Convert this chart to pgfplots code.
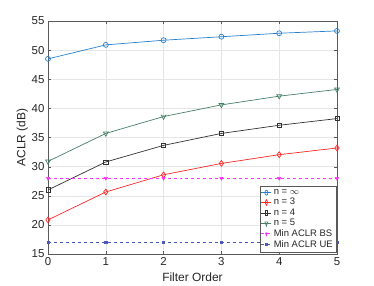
\documentclass[border=0pt]{standalone}
\usepackage{fontspec}
\setmainfont{Liberation Sans}
\usepackage{pgfplots}
\pgfplotsset{compat=1.18}
\definecolor{cInf}{rgb}{0.15,0.50,0.80}
\definecolor{cThree}{rgb}{1.0,0.15,0.15}
\definecolor{cFour}{rgb}{0.2,0.2,0.2}
\definecolor{cFive}{rgb}{0.28,0.50,0.40}
\definecolor{cBS}{rgb}{1.0,0.2,1.0}
\definecolor{cUE}{rgb}{0.30,0.35,0.72}
\definecolor{txt}{rgb}{0.15,0.15,0.15}
\begin{document}
\begin{tikzpicture}
\path[use as bounding box] (0,0) rectangle (374bp,286bp);
\begin{axis}[
  at={(48bp,32bp)}, anchor=south west,
  scale only axis, width=289bp, height=233bp,
  xmin=0, xmax=5, ymin=15, ymax=55,
  xtick={0,1,2,3,4,5}, ytick={15,20,...,55},
  grid=major, major grid style={gray!20, line width=0.4pt},
  axis line style={gray!70!black, line width=0.5pt},
  tick style={gray!70!black},
  tick align=inside, major tick length=3bp,
  tick label style={font=\fontsize{11.5}{13}\selectfont, color=txt},
  label style={font=\fontsize{12}{14}\selectfont, color=txt},
  /pgf/number format/assume math mode=true,
  xlabel={Filter Order}, ylabel={ACLR (dB)},
  xlabel style={yshift=0bp},
  ylabel style={yshift=-3bp},
  legend style={at={(0.997,0.008)}, anchor=south east, draw=gray!70!black, fill=white,
    font=\fontsize{9.5}{10.5}\selectfont, inner sep=1.2bp, row sep=-1.6bp,
    legend cell align=left, text=txt},
  legend image post style={xscale=0.6},
  every axis plot/.append style={line width=0.7pt},
]
\addplot[color=cInf, mark=o, mark size=2.5pt, mark options={solid}] coordinates {(0,48.5) (1,50.9) (2,51.7) (3,52.3) (4,52.9) (5,53.3)};
\addlegendentry{n = $\infty$}
\addplot[color=cThree, mark=diamond, mark size=2.9pt, mark options={solid}] coordinates {(0,20.85) (1,25.65) (2,28.6) (3,30.55) (4,32.05) (5,33.2)};
\addlegendentry{n = 3}
\addplot[color=cFour, mark=square, mark size=2.1pt, mark options={solid}] coordinates {(0,26.0) (1,30.8) (2,33.65) (3,35.7) (4,37.1) (5,38.25)};
\addlegendentry{n = 4}
\addplot[color=cFive, mark=triangle, mark size=2.8pt, mark options={solid, rotate=180}] coordinates {(0,30.9) (1,35.7) (2,38.6) (3,40.6) (4,42.1) (5,43.25)};
\addlegendentry{n = 5}
\addplot[color=cBS, dashed, mark=triangle*, mark size=1.8pt, mark options={solid, rotate=180}] coordinates {(0,28) (1,28) (2,28) (3,28) (4,28) (5,28)};
\addlegendentry{Min ACLR BS}
\addplot[color=cUE, dashed, mark=square*, mark size=1.1pt, mark options={solid}] coordinates {(0,17) (1,17) (2,17) (3,17) (4,17) (5,17)};
\addlegendentry{Min ACLR UE}
\end{axis}
\end{tikzpicture}
\end{document}
